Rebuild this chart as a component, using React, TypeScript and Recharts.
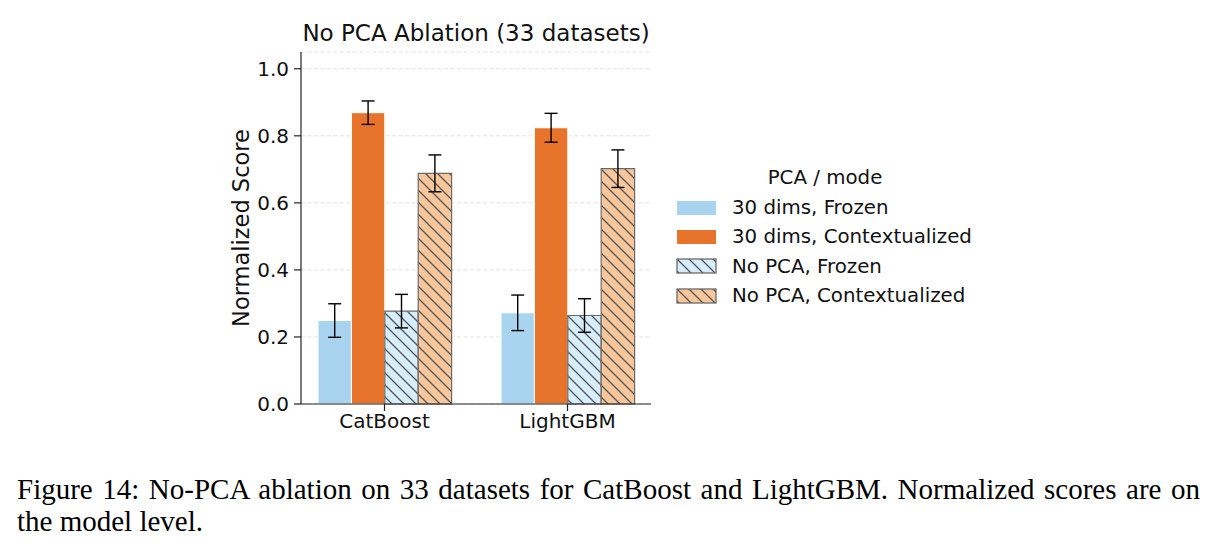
import React from "react";
import {
  BarChart,
  Bar,
  XAxis,
  YAxis,
  CartesianGrid,
  ErrorBar,
  Legend,
} from "recharts";

const categories = ["CatBoost", "LightGBM"];

const frozen30 = [0.249, 0.272];
const frozen30Err = [0.05, 0.053];
const ctx30 = [0.869, 0.824];
const ctx30Err = [0.035, 0.043];
const noPcaFrozen = [0.277, 0.264];
const noPcaFrozenErr = [0.05, 0.05];
const noPcaCtx = [0.688, 0.702];
const noPcaCtxErr = [0.055, 0.056];

const yTicks = [0, 0.2, 0.4, 0.6, 0.8, 1.0];

const seriesNames = [
  "30 dims, Frozen",
  "30 dims, Contextualized",
  "No PCA, Frozen",
  "No PCA, Contextualized",
];

const data = categories.map((name, i) => ({
  name,
  frozen30: frozen30[i],
  frozen30Err: frozen30Err[i],
  ctx30: ctx30[i],
  ctx30Err: ctx30Err[i],
  noPcaFrozen: noPcaFrozen[i],
  noPcaFrozenErr: noPcaFrozenErr[i],
  noPcaCtx: noPcaCtx[i],
  noPcaCtxErr: noPcaCtxErr[i],
}));

const FONT = "'DejaVu Sans', sans-serif";
const BLUE = "#a8d4f0";
const ORANGE = "#e8732b";
const BLUE_LIGHT = "#d6edfb";
const PEACH = "#f8c69b";
const EDGE = "#6a6a6a";

const patches = [
  { fill: BLUE, stroke: "none" },
  { fill: ORANGE, stroke: "none" },
  { fill: "url(#hatchBlue)", stroke: EDGE },
  { fill: "url(#hatchPeach)", stroke: EDGE },
];

function Hatch({ id, bg }: { id: string; bg: string }) {
  return (
    <pattern id={id} width={12} height={12} patternUnits="userSpaceOnUse">
      <rect width={12} height={12} fill={bg} />
      <path
        d="M-1,-1 L13,13 M-1,11 L1,13 M11,-1 L13,1"
        stroke="#555"
        strokeWidth={1.3}
      />
    </pattern>
  );
}

function LegendBox() {
  return (
    <div style={{ fontFamily: FONT, fontSize: 19.8, color: "#111", width: 310 }}>
      <div style={{ textAlign: "center", width: 298, height: 30, lineHeight: "30px" }}>
        PCA / mode
      </div>
      {seriesNames.map((s, i) => (
        <div
          key={s}
          style={{ display: "flex", alignItems: "center", height: 29.3 }}
        >
          <svg width={42} height={16} style={{ marginRight: 14 }}>
            <rect
              x={1}
              y={1}
              width={39}
              height={14}
              fill={patches[i].fill}
              stroke={patches[i].stroke}
              strokeWidth={1.3}
            />
          </svg>
          <span style={{ whiteSpace: "nowrap" }}>{s}</span>
        </div>
      ))}
    </div>
  );
}

export default function App() {
  return (
    <div style={{ position: "relative", width: 1202, height: 540 }}>
      <div
        style={{
          position: "absolute",
          left: 293,
          width: 350,
          top: 12,
          textAlign: "center",
          fontFamily: FONT,
          fontSize: 23,
          color: "#111",
          whiteSpace: "nowrap",
        }}
      >
        No PCA Ablation (33 datasets)
      </div>
      <BarChart
        width={1202}
        height={440}
        data={data}
        margin={{ top: 44, right: 559, bottom: 4, left: 233 }}
        barGap={0}
        barSize={33.4}
      >
        <defs>
          <Hatch id="hatchBlue" bg={BLUE_LIGHT} />
          <Hatch id="hatchPeach" bg={PEACH} />
        </defs>
        <CartesianGrid
          vertical={false}
          stroke="#e2e2e2"
          strokeDasharray="4 2.5"
        />
        <XAxis
          dataKey="name"
          padding={{ left: -8, right: -8 }}
          height={40}
          tickSize={7}
          tickMargin={3}
          axisLine={{ stroke: "#222", strokeWidth: 1.2 }}
          tickLine={{ stroke: "#222", strokeWidth: 1.2 }}
          tick={{ fontFamily: FONT, fontSize: 20, fill: "#111" }}
        />
        <YAxis
          width={60}
          domain={[0, 1.05]}
          ticks={yTicks}
          tickFormatter={(v: number) => v.toFixed(1)}
          tickSize={7}
          tickMargin={5}
          axisLine={{ stroke: "#222", strokeWidth: 1.2 }}
          tickLine={{ stroke: "#222", strokeWidth: 1.2 }}
          tick={{ fontFamily: FONT, fontSize: 20, fill: "#111" }}
          label={{
            content: ({ viewBox }: any) => {
              const cx = viewBox.x;
              const cy = viewBox.y + viewBox.height / 2;
              return (
                <text
                  x={cx}
                  y={cy}
                  transform={`rotate(-90, ${cx}, ${cy})`}
                  textAnchor="middle"
                  dominantBaseline="central"
                  fontFamily={FONT}
                  fontSize={22.5}
                  fill="#111"
                >
                  Normalized Score
                </text>
              );
            },
          }}
        />
        {/* vertical + centered + middle keeps the legend from shrinking the plot */}
        <Legend
          layout="vertical"
          align="center"
          verticalAlign="middle"
          content={() => <LegendBox />}
          wrapperStyle={{ left: 668, top: 155, width: 310 }}
        />
        <Bar
          dataKey="frozen30"
          name={seriesNames[0]}
          fill={BLUE}
          stroke="#fff"
          strokeWidth={1}
          isAnimationActive={false}
        >
          <ErrorBar dataKey="frozen30Err" width={6.5} stroke="#000" strokeWidth={1.4} />
        </Bar>
        <Bar
          dataKey="ctx30"
          name={seriesNames[1]}
          fill={ORANGE}
          stroke="#fff"
          strokeWidth={1}
          isAnimationActive={false}
        >
          <ErrorBar dataKey="ctx30Err" width={6.5} stroke="#000" strokeWidth={1.4} />
        </Bar>
        <Bar
          dataKey="noPcaFrozen"
          name={seriesNames[2]}
          fill="url(#hatchBlue)"
          stroke={EDGE}
          strokeWidth={1.2}
          isAnimationActive={false}
        >
          <ErrorBar dataKey="noPcaFrozenErr" width={6.5} stroke="#000" strokeWidth={1.4} />
        </Bar>
        <Bar
          dataKey="noPcaCtx"
          name={seriesNames[3]}
          fill="url(#hatchPeach)"
          stroke={EDGE}
          strokeWidth={1.2}
          isAnimationActive={false}
        >
          <ErrorBar dataKey="noPcaCtxErr" width={6.5} stroke="#000" strokeWidth={1.4} />
        </Bar>
      </BarChart>
      <div
        style={{
          position: "absolute",
          left: 9,
          top: 465,
          width: 1183,
          fontFamily: "'Liberation Serif', serif",
          fontSize: 29,
          lineHeight: "32px",
          color: "#000",
        }}
      >
        <div style={{ textAlign: "justify", textAlignLast: "justify", whiteSpace: "nowrap" }}>
          Figure 14: No-PCA ablation on 33 datasets for CatBoost and LightGBM. Normalized scores are on
        </div>
        <div style={{ whiteSpace: "nowrap" }}>the model level.</div>
      </div>
    </div>
  );
}
